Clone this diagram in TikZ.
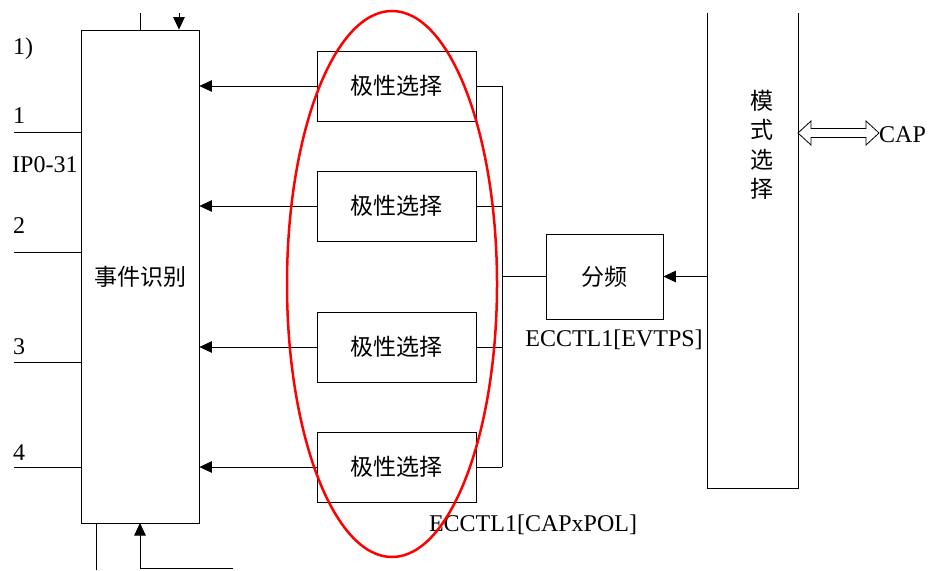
\documentclass[tikz,border=0pt]{standalone}
\usepackage{fontspec}
\setmainfont{Liberation Serif}
\newfontfamily\cjk{Noto Sans CJK SC}
\usetikzlibrary{arrows.meta}
\tikzset{
  box/.style={draw, line width=0.8pt, inner sep=0pt, font=\cjk\fontsize{23}{27}\selectfont},
  wire/.style={line width=0.8pt},
  arr/.style={line width=0.8pt, -{Triangle[length=12.5pt,width=11.5pt]}},
  lbl/.style={inner sep=0pt, font=\fontsize{24}{28}\selectfont},
}
\begin{document}
\begin{tikzpicture}[x=1pt,y=-1pt]
\useasboundingbox (0,0) rectangle (928,570);
% event recognition box
\node[box, minimum width=118pt, minimum height=493pt] (ev) at (140,276.5) {事件识别};
% polarity selection boxes
\foreach \i/\y in {1/86,2/206,3/347,4/467}{
  \node[box, minimum width=159pt, minimum height=70pt] (p\i) at (396.5,\y) {极性选择};
  \coordinate (b\i) at (502,\y);
  \draw[arr] (p\i.west) -- (p\i.west -| ev.east);
  \draw[wire] (p\i.east) -- (b\i);
}
\draw[wire] (b1) -- (b4);
% divider box
\node[box, minimum width=117pt, minimum height=85pt] (fp) at (604.5,276.5) {分频};
\draw[wire] (fp.west -| b1) -- (fp.west);
% mode selection box (open top)
\node[minimum width=90pt, minimum height=475pt, inner sep=0pt] (mode) at (753,250.5) {};
\draw[wire] (mode.north west) -- (mode.south west) -- (mode.south east) -- (mode.north east);
\node[inner sep=0pt, align=center, font=\cjk\fontsize{23}{29.5}\selectfont] (mtxt) at (762,145) {模\\式\\选\\择};
\draw[arr] (fp.east -| mode.west) -- (fp.east);
% CAP double arrow
\coordinate (da) at (798,133);
\draw[line width=0.8pt, fill=white] (da) -- ++(13,-12) -- ++(0,7.5) -- ++(55,0) -- ++(0,-7.5) -- ++(13,12)
  -- ++(-13,12) -- ++(0,-7.5) -- ++(-55,0) -- ++(0,7.5) -- cycle;
\node[lbl, anchor=base west] (cap) at (879,142) {CAP};
% input lines and labels
\foreach \n/\y/\b in {1/132/123,2/252/233,3/362/354,4/467/460}{
  \coordinate (in\n) at (14,\y);
  \draw[wire] (in\n) -- (in\n -| ev.west);
  \node[lbl, anchor=base west] (n\n) at (13,\b) {\n};
}
\node[lbl, anchor=base west] (t1) at (13,54) {1)};
\node[lbl, anchor=base west] (tip) at (12,172) {IP0-31};
% top connections
\coordinate (tA) at (140,13);
\coordinate (tB) at (179,13);
\draw[wire] (tA) -- (tA |- ev.north);
\draw[arr] (tB) -- (tB |- ev.north);
% bottom connections
\coordinate (bA) at (96,570);
\coordinate (bB) at (233,568);
\draw[wire] (bA) -- (bA |- ev.south);
\draw[arr] (bB) -- (140,568) -- (140,523);
% labels
\node[lbl, anchor=base] (l1) at (614,346) {ECCTL1[EVTPS]};
\node[lbl, anchor=base] (l2) at (533,531) {ECCTL1[CAPxPOL]};
% red ellipse
\draw[red, line width=2.5pt] (392,284) ellipse [x radius=105, y radius=273];
\end{tikzpicture}
\end{document}
